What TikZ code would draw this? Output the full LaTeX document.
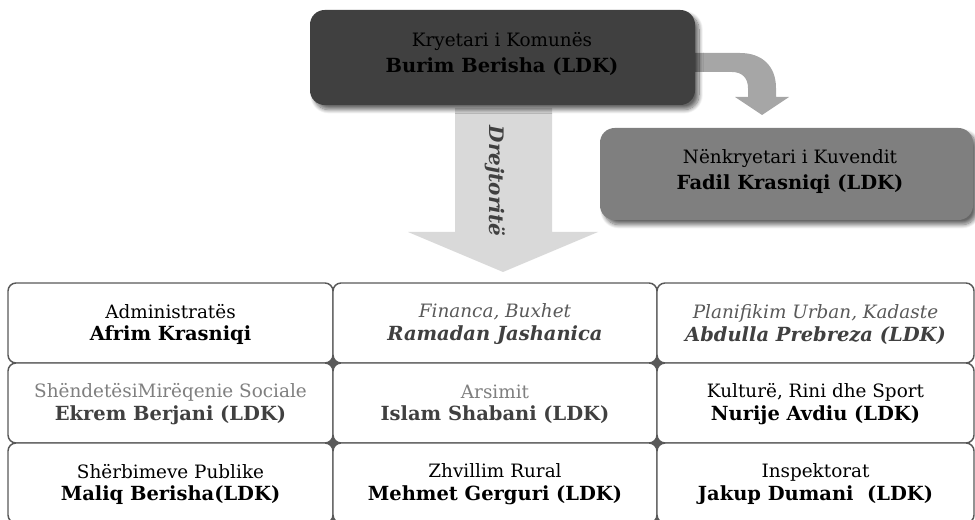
\documentclass[tikz,border=0pt]{standalone}
\usepackage{fontspec}
\setmainfont{DejaVu Serif}
\usetikzlibrary{shadows.blur}
\definecolor{topdark}{HTML}{404040}
\definecolor{midgray}{HTML}{7F7F7F}
\definecolor{bentgray}{HTML}{A6A6A6}
\definecolor{biggray}{HTML}{D9D9D9}
\definecolor{gridline}{HTML}{595959}
\definecolor{txtgray}{HTML}{595959}
\definecolor{txtdark}{HTML}{404040}
\newcommand{\bname}[1]{{\fontsize{14.6}{17}\selectfont\bfseries #1}}
\newcommand{\biname}[1]{{\fontsize{14.6}{17}\selectfont\bfseries\itshape #1}}
\newcommand{\bnamehead}[1]{{\fontsize{14.6}{18.8}\selectfont\bfseries #1}}
\begin{document}
\begin{tikzpicture}[x=0.75pt,y=-0.75pt,
  lbl/.style={align=center,font=\fontsize{13.8}{17}\selectfont,inner sep=0pt},
  hlbl/.style={align=center,font=\fontsize{13.8}{18.8}\selectfont,inner sep=0pt},
  cell/.style={draw=gridline,line width=1.1pt,fill=white,rounded corners=6pt,inner sep=0pt,minimum height=60pt},
  headbox/.style={rounded corners=11pt,inner sep=0pt,
    blur shadow={shadow xshift=3pt,shadow yshift=-3.5pt,shadow blur radius=3pt,shadow blur steps=12,shadow opacity=60}},
  star/.style={fill=gridline,minimum size=12pt,inner sep=0pt}]
\useasboundingbox (0,0) rectangle (975,520);

% big down arrow
\path[fill=biggray] (455,108) -- (552,108) -- (552,232) -- (598,232) -- (503,272) -- (408,232) -- (455,232) -- cycle;
\node[rotate=-90,font=\fontsize{15}{17}\selectfont\bfseries\itshape,text=txtdark] (drej) at (495,181) {Drejtoritë};

% bent arrow
\path[fill=bentgray] (690,53) -- (740,53) .. controls (762,53) and (776,66) .. (776,88) -- (776,97) -- (789,97) -- (762,115) -- (735,97) -- (748,97) -- (748,88) .. controls (748,78) and (742,72) .. (732,72) -- (690,72) -- cycle;

% top boxes
\node[headbox,fill=topdark,minimum width=288.75pt,minimum height=71.25pt] (mayor) at (502.5,57.5) {};
\node[hlbl] (mayortxt) at (502,54) {Kryetari i Komunës\\\bnamehead{Burim Berisha (LDK)}};

\node[headbox,fill=midgray,minimum width=279.75pt,minimum height=69pt] (vice) at (786.5,174) {};
\node[hlbl] (vicetxt) at (790,171.5) {Nënkryetari i Kuvendit\\\bnamehead{Fadil Krasniqi (LDK)}};

% stars at grid intersections
\foreach \xx/\yy [count=\i] in {333/363,333/443,657/363,657/443,333/523,657/523}
  \node[star] (s\i) at (\xx,\yy) {};

% grid cells
\node[cell,minimum width=243.75pt] (c11) at (170.5,323) {};
\node[cell,minimum width=243pt] (c12) at (495,323) {};
\node[cell,minimum width=237.75pt] (c13) at (815.5,323) {};
\node[cell,minimum width=243.75pt] (c21) at (170.5,403) {};
\node[cell,minimum width=243pt] (c22) at (495,403) {};
\node[cell,minimum width=237.75pt] (c23) at (815.5,403) {};
\node[cell,minimum width=243.75pt] (c31) at (170.5,483) {};
\node[cell,minimum width=243pt] (c32) at (495,483) {};
\node[cell,minimum width=237.75pt] (c33) at (815.5,483) {};

\node[lbl] (t11) at ([yshift=-1pt]c11) {Administratës\\\bname{Afrim Krasniqi}};
\node[lbl] (t12) at ([yshift=-1pt]c12) {\textit{\textcolor{txtgray}{Financa, Buxhet}}\\\textcolor{txtdark}{\biname{Ramadan Jashanica}}};
\node[lbl] (t13) at ([yshift=-1pt]c13) {\textit{\textcolor{txtgray}{Planifikim Urban, Kadaste}}\\\textcolor{txtdark}{\biname{Abdulla Prebreza (LDK)}}};
\node[lbl] (t21) at ([yshift=-1pt]c21) {\textcolor{midgray}{ShëndetësiMirëqenie Sociale}\\\textcolor{txtdark}{\bname{Ekrem Berjani (LDK)}}};
\node[lbl] (t22) at ([yshift=-1pt]c22) {\textcolor{midgray}{Arsimit}\\\textcolor{txtdark}{\bname{Islam Shabani (LDK)}}};
\node[lbl] (t23) at ([yshift=-1pt]c23) {Kulturë, Rini dhe Sport\\\bname{Nurije Avdiu (LDK)}};
\node[lbl] (t31) at ([yshift=-1pt]c31) {Shërbimeve Publike\\\bname{Maliq Berisha(LDK)}};
\node[lbl] (t32) at ([yshift=-1pt]c32) {Zhvillim Rural\\\bname{Mehmet Gerguri (LDK)}};
\node[lbl] (t33) at ([yshift=-1pt]c33) {Inspektorat\\\bname{Jakup Dumani\ \ (LDK)}};
\end{tikzpicture}
\end{document}
